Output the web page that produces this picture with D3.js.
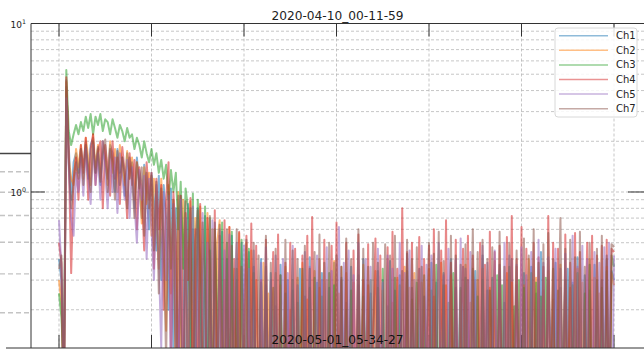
<!DOCTYPE html>
<html>
<head>
<meta charset="utf-8">
<script src="https://cdn.jsdelivr.net/npm/d3@7"></script>
<style>
  html, body { margin: 0; padding: 0; background: #fff; }
  svg { display: block; font-family: "DejaVu Sans", sans-serif; }
</style>
</head>
<body>
<div id="chart"></div>
<script>
// Spectra, 229 bins over 0..600 (x labels are cut off in the source)
const channels = ["Ch1", "Ch2", "Ch3", "Ch4", "Ch5", "Ch7"];
const colors = ["#1f77b4", "#ff7f0e", "#2ca02c", "#d62728", "#9467bd", "#8c564b"];
const xTicks = [0, 100, 200, 300, 400, 500, 600];
const yMajor = [1, 10];
const yMinor = [0.2, 0.3, 0.4, 0.5, 0.6, 0.7, 0.8, 0.9, 2, 3, 4, 5, 6, 7, 8, 9];

const ch1 = [
  0.4, 0.3, 0.05, 4.2, 1.9, 0.9, 1.5, 1.7, 1.3, 1.8,
  1.4, 2.0, 1.2, 1.9, 2.1, 1.3, 1.8, 1.1, 2.0, 1.5,
  1.2, 1.9, 1.7, 1.0, 1.8, 1.3, 1.6, 0.95, 1.7, 1.2,
  1.5, 0.8, 1.6, 1.1, 0.7, 1.45, 1.0, 0.6, 1.3, 0.9,
  0.45, 1.25, 0.3, 1.1, 0.7, 0.2, 1.05, 0.12, 0.8, 0.06,
  0.95, 0.5, 0.04, 0.85, 0.08, 0.6, 0.03, 0.8, 0.3, 0.05,
  0.72, 0.04, 0.45, 0.02, 0.66, 0.1, 0.05, 0.58, 0.03, 0.4,
  0.06, 0.55, 0.02, 0.3, 0.04, 0.5, 0.15, 0.03, 0.44, 0.05,
  0.36, 0.02, 0.04, 0.4, 0.08, 0.28, 0.03, 0.33, 0.05, 0.21,
  0.02, 0.37, 0.04, 0.1, 0.3, 0.03, 0.26, 0.06, 0.02, 0.35,
  0.05, 0.24, 0.03, 0.41, 0.04, 0.12, 0.29, 0.02, 0.33, 0.05,
  0.04, 0.27, 0.03, 0.38, 0.09, 0.02, 0.31, 0.05, 0.22, 0.03,
  0.36, 0.04, 0.02, 0.28, 0.06, 0.4, 0.03, 0.14, 0.25, 0.04,
  0.02, 0.34, 0.05, 0.3, 0.03, 0.07, 0.39, 0.02, 0.26, 0.04,
  0.32, 0.03, 0.05, 0.43, 0.02, 0.27, 0.1, 0.04, 0.35, 0.03,
  0.24, 0.05, 0.02, 0.38, 0.04, 0.29, 0.03, 0.11, 0.33, 0.02,
  0.05, 0.4, 0.03, 0.27, 0.04, 0.02, 0.36, 0.06, 0.3, 0.03,
  0.13, 0.34, 0.02, 0.05, 0.42, 0.03, 0.26, 0.04, 0.31, 0.02,
  0.06, 0.37, 0.03, 0.22, 0.05, 0.02, 0.4, 0.04, 0.28, 0.09,
  0.03, 0.33, 0.05, 0.02, 0.36, 0.04, 0.25, 0.03, 0.44, 0.05,
  0.02, 0.3, 0.12, 0.04, 0.38, 0.03, 0.27, 0.05, 0.02, 0.35,
  0.04, 0.29, 0.03, 0.41, 0.06, 0.02, 0.32, 0.05, 0.26, 0.03,
  0.37, 0.04, 0.02, 0.3, 0.05, 0.42, 0.03, 0.34, 0.3
];
const ch2 = [
  0.3, 0.22, 0.06, 4.5, 1.6, 1.2, 1.1, 1.8, 1.4, 1.9,
  1.2, 2.1, 1.6, 1.1, 2.2, 1.4, 1.9, 1.2, 2.0, 1.6,
  1.1, 2.0, 1.3, 1.8, 1.0, 1.9, 1.4, 1.1, 1.75, 1.2,
  1.6, 0.9, 1.5, 1.2, 0.65, 1.4, 0.85, 1.3, 0.55, 1.2,
  0.9, 0.35, 1.2, 0.6, 0.15, 1.1, 0.25, 0.9, 0.08, 1.0,
  0.05, 0.9, 0.4, 0.03, 0.88, 0.06, 0.7, 0.04, 0.82, 0.2,
  0.03, 0.75, 0.05, 0.6, 0.02, 0.5, 0.68, 0.04, 0.3, 0.02,
  0.62, 0.05, 0.35, 0.03, 0.57, 0.04, 0.1, 0.5, 0.02, 0.45,
  0.04, 0.3, 0.06, 0.02, 0.38, 0.03, 0.25, 0.09, 0.04, 0.33,
  0.02, 0.28, 0.05, 0.36, 0.03, 0.2, 0.04, 0.02, 0.31, 0.06,
  0.38, 0.03, 0.23, 0.05, 0.02, 0.34, 0.04, 0.27, 0.11, 0.03,
  0.3, 0.05, 0.02, 0.39, 0.04, 0.25, 0.03, 0.06, 0.33, 0.02,
  0.05, 0.29, 0.03, 0.21, 0.04, 0.37, 0.02, 0.28, 0.05, 0.13,
  0.34, 0.03, 0.04, 0.26, 0.02, 0.4, 0.05, 0.22, 0.03, 0.31,
  0.04, 0.02, 0.36, 0.06, 0.27, 0.03, 0.33, 0.05, 0.02, 0.29,
  0.1, 0.04, 0.35, 0.03, 0.24, 0.05, 0.02, 0.38, 0.04, 0.28,
  0.03, 0.32, 0.05, 0.12, 0.02, 0.26, 0.04, 0.37, 0.03, 0.22,
  0.05, 0.02, 0.3, 0.04, 0.35, 0.03, 0.08, 0.27, 0.02, 0.39,
  0.04, 0.25, 0.03, 0.05, 0.33, 0.02, 0.29, 0.06, 0.36, 0.03,
  0.04, 0.28, 0.02, 0.4, 0.05, 0.11, 0.31, 0.03, 0.02, 0.26,
  0.05, 0.34, 0.03, 0.23, 0.04, 0.02, 0.37, 0.05, 0.3, 0.03,
  0.27, 0.04, 0.02, 0.35, 0.06, 0.29, 0.03, 0.05, 0.4, 0.02,
  0.31, 0.05, 0.25, 0.03, 0.04, 0.36, 0.02, 0.33, 0.28
];
const ch3 = [
  0.25, 0.18, 0.08, 5.3, 2.3, 1.9, 2.2, 2.5, 2.2, 2.6,
  2.3, 2.8, 2.4, 2.9, 2.2, 2.8, 2.5, 2.9, 2.3, 2.7,
  2.6, 2.2, 2.7, 2.4, 2.1, 2.5, 2.3, 2.0, 2.4, 2.1,
  2.2, 1.8, 2.1, 1.9, 1.6, 2.0, 1.7, 1.5, 1.8, 1.45,
  1.7, 1.3, 1.55, 1.2, 1.45, 0.9, 1.35, 1.0, 1.3, 0.6,
  1.15, 0.35, 1.05, 0.8, 0.12, 0.98, 0.06, 0.9, 0.4, 0.04,
  0.82, 0.05, 0.7, 0.03, 0.6, 0.2, 0.04, 0.66, 0.02, 0.5,
  0.05, 0.58, 0.03, 0.35, 0.04, 0.52, 0.02, 0.1, 0.46, 0.03,
  0.33, 0.05, 0.02, 0.29, 0.04, 0.36, 0.03, 0.12, 0.27, 0.02,
  0.05, 0.32, 0.03, 0.25, 0.04, 0.02, 0.3, 0.06, 0.22, 0.03,
  0.35, 0.04, 0.02, 0.27, 0.05, 0.31, 0.03, 0.09, 0.24, 0.02,
  0.04, 0.33, 0.03, 0.28, 0.05, 0.02, 0.36, 0.04, 0.2, 0.03,
  0.26, 0.05, 0.02, 0.32, 0.03, 0.24, 0.1, 0.04, 0.3, 0.02,
  0.05, 0.27, 0.03, 0.35, 0.04, 0.21, 0.02, 0.06, 0.31, 0.03,
  0.28, 0.04, 0.02, 0.34, 0.05, 0.23, 0.03, 0.29, 0.04, 0.11,
  0.32, 0.02, 0.05, 0.26, 0.03, 0.37, 0.04, 0.02, 0.28, 0.05,
  0.22, 0.03, 0.33, 0.04, 0.08, 0.27, 0.02, 0.31, 0.05, 0.03,
  0.35, 0.04, 0.24, 0.02, 0.3, 0.05, 0.03, 0.26, 0.12, 0.04,
  0.32, 0.02, 0.28, 0.05, 0.03, 0.36, 0.04, 0.21, 0.02, 0.3,
  0.05, 0.27, 0.03, 0.04, 0.33, 0.02, 0.29, 0.06, 0.24, 0.03,
  0.31, 0.04, 0.02, 0.35, 0.05, 0.26, 0.03, 0.1, 0.3, 0.02,
  0.04, 0.28, 0.03, 0.33, 0.05, 0.02, 0.25, 0.04, 0.37, 0.03,
  0.06, 0.3, 0.02, 0.27, 0.04, 0.34, 0.03, 0.42, 0.36
];
const ch4 = [
  0.5, 0.38, 0.04, 4.8, 1.7, 0.33, 1.2, 1.6, 0.9, 1.9,
  1.3, 2.1, 0.9, 1.8, 2.2, 1.1, 1.7, 2.0, 0.8, 1.9,
  1.4, 0.95, 2.0, 1.2, 1.6, 0.85, 1.85, 1.3, 0.7, 1.7,
  1.1, 1.55, 0.6, 1.4, 1.0, 0.45, 1.5, 0.9, 1.3, 0.35,
  1.2, 0.6, 1.1, 0.2, 0.9, 1.5, 0.1, 1.0, 0.5, 0.06,
  0.95, 0.04, 0.75, 0.3, 0.92, 0.05, 0.6, 0.03, 0.85, 0.1,
  0.04, 0.7, 0.35, 0.02, 0.78, 0.05, 0.55, 0.03, 0.68, 0.04,
  0.62, 0.02, 0.4, 0.05, 0.58, 0.03, 0.2, 0.55, 0.04, 0.65,
  0.03, 0.48, 0.05, 0.3, 0.02, 0.52, 0.04, 0.12, 0.44, 0.03,
  0.56, 0.05, 0.02, 0.38, 0.04, 0.5, 0.03, 0.46, 0.06, 0.02,
  0.42, 0.04, 0.55, 0.03, 0.71, 0.05, 0.02, 0.4, 0.04, 0.52,
  0.03, 0.09, 0.48, 0.02, 0.66, 0.05, 0.36, 0.03, 0.5, 0.04,
  0.02, 0.45, 0.05, 0.56, 0.03, 0.3, 0.04, 0.49, 0.02, 0.13,
  0.53, 0.04, 0.42, 0.03, 0.05, 0.47, 0.02, 0.58, 0.04, 0.35,
  0.03, 0.8, 0.05, 0.44, 0.02, 0.5, 0.04, 0.1, 0.54, 0.03,
  0.4, 0.05, 0.48, 0.02, 0.6, 0.04, 0.03, 0.45, 0.05, 0.68,
  0.02, 0.38, 0.04, 0.52, 0.03, 0.11, 0.46, 0.05, 0.55, 0.02,
  0.42, 0.04, 0.03, 0.5, 0.05, 0.37, 0.02, 0.58, 0.04, 0.44,
  0.03, 0.48, 0.05, 0.02, 0.54, 0.04, 0.72, 0.03, 0.4, 0.05,
  0.62, 0.02, 0.46, 0.04, 0.09, 0.5, 0.03, 0.41, 0.05, 0.36,
  0.02, 0.72, 0.04, 0.5, 0.03, 0.46, 0.05, 0.02, 0.56, 0.04,
  0.38, 0.03, 0.57, 0.05, 0.44, 0.02, 0.12, 0.5, 0.04, 0.55,
  0.03, 0.42, 0.05, 0.48, 0.02, 0.52, 0.04, 0.46, 0.44
];
const ch5 = [
  0.68, 0.35, 0.07, 3.6, 1.4, 0.7, 0.55, 1.3, 1.0, 1.6,
  0.95, 1.8, 1.2, 0.85, 1.9, 1.1, 1.7, 0.9, 2.0, 1.3,
  0.8, 1.75, 1.0, 1.6, 0.75, 1.7, 1.2, 0.9, 1.55, 0.7,
  1.4, 0.85, 0.5, 1.35, 0.9, 1.25, 0.4, 1.2, 0.6, 0.3,
  1.1, 0.4, 0.12, 1.0, 0.3, 0.95, 0.07, 0.85, 0.15, 0.05,
  0.9, 0.03, 0.7, 0.05, 0.45, 0.82, 0.04, 0.6, 0.02, 0.75,
  0.05, 0.5, 0.03, 0.68, 0.1, 0.04, 0.6, 0.02, 0.45, 0.05,
  0.56, 0.03, 0.25, 0.5, 0.04, 0.02, 0.48, 0.05, 0.35, 0.03,
  0.45, 0.04, 0.02, 0.38, 0.06, 0.47, 0.03, 0.3, 0.05, 0.42,
  0.03, 0.15, 0.4, 0.02, 0.33, 0.05, 0.48, 0.04, 0.28, 0.03,
  0.05, 0.44, 0.02, 0.36, 0.04, 0.1, 0.42, 0.03, 0.3, 0.05,
  0.47, 0.02, 0.34, 0.04, 0.03, 0.62, 0.05, 0.38, 0.02, 0.45,
  0.04, 0.32, 0.03, 0.5, 0.05, 0.12, 0.4, 0.02, 0.36, 0.04,
  0.03, 0.46, 0.05, 0.29, 0.02, 0.42, 0.04, 0.35, 0.03, 0.08,
  0.5, 0.04, 0.33, 0.02, 0.45, 0.05, 0.3, 0.03, 0.04, 0.48,
  0.02, 0.37, 0.05, 0.42, 0.03, 0.14, 0.5, 0.04, 0.32, 0.02,
  0.46, 0.05, 0.03, 0.4, 0.04, 0.53, 0.02, 0.35, 0.05, 0.44,
  0.03, 0.3, 0.04, 0.02, 0.48, 0.05, 0.38, 0.03, 0.1, 0.45,
  0.04, 0.34, 0.02, 0.5, 0.05, 0.42, 0.03, 0.04, 0.37, 0.02,
  0.47, 0.05, 0.32, 0.03, 0.44, 0.04, 0.02, 0.52, 0.05, 0.38,
  0.03, 0.41, 0.04, 0.12, 0.46, 0.02, 0.35, 0.05, 0.43, 0.03,
  0.04, 0.55, 0.02, 0.36, 0.05, 0.48, 0.03, 0.4, 0.04, 0.02,
  0.44, 0.05, 0.38, 0.03, 0.47, 0.04, 0.5, 0.03, 0.42
];
const ch7 = [
  0.35, 0.42, 0.05, 4.6, 1.5, 0.8, 1.1, 1.5, 1.2, 1.8,
  1.1, 1.9, 1.4, 1.0, 2.0, 1.3, 1.85, 1.15, 1.7, 2.05,
  1.0, 1.8, 1.5, 0.9, 1.75, 1.1, 1.6, 1.3, 0.8, 1.6,
  1.2, 0.7, 1.5, 1.05, 1.4, 0.55, 1.3, 0.8, 1.25, 0.45,
  1.15, 0.25, 1.05, 0.5, 0.1, 1.0, 0.35, 0.9, 0.06, 0.95,
  0.2, 0.04, 0.88, 0.06, 0.8, 0.03, 0.5, 0.78, 0.05, 0.66,
  0.3, 0.02, 0.72, 0.04, 0.5, 0.03, 0.64, 0.15, 0.05, 0.6,
  0.02, 0.48, 0.04, 0.6, 0.03, 0.36, 0.05, 0.52, 0.02, 0.12,
  0.5, 0.03, 0.42, 0.05, 0.02, 0.55, 0.04, 0.38, 0.03, 0.46,
  0.05, 0.32, 0.02, 0.52, 0.04, 0.1, 0.45, 0.03, 0.4, 0.05,
  0.02, 0.48, 0.04, 0.35, 0.03, 0.44, 0.05, 0.56, 0.02, 0.38,
  0.04, 0.5, 0.03, 0.12, 0.42, 0.05, 0.3, 0.02, 0.53, 0.04,
  0.4, 0.03, 0.05, 0.6, 0.02, 0.46, 0.04, 0.36, 0.03, 0.5,
  0.05, 0.38, 0.02, 0.1, 0.49, 0.04, 0.42, 0.03, 0.55, 0.05,
  0.02, 0.34, 0.04, 0.52, 0.03, 0.4, 0.05, 0.47, 0.02, 0.36,
  0.04, 0.12, 0.5, 0.03, 0.43, 0.05, 0.58, 0.02, 0.39, 0.04,
  0.03, 0.55, 0.05, 0.42, 0.02, 0.37, 0.04, 0.49, 0.03, 0.1,
  0.6, 0.05, 0.44, 0.02, 0.52, 0.04, 0.4, 0.03, 0.47, 0.05,
  0.02, 0.58, 0.04, 0.36, 0.03, 0.5, 0.05, 0.11, 0.45, 0.02,
  0.04, 0.53, 0.03, 0.42, 0.05, 0.6, 0.02, 0.38, 0.04, 0.49,
  0.03, 0.57, 0.05, 0.4, 0.02, 0.14, 0.7, 0.04, 0.46, 0.03,
  0.52, 0.05, 0.41, 0.02, 0.58, 0.04, 0.36, 0.03, 0.5, 0.05,
  0.02, 0.46, 0.04, 0.55, 0.03, 0.4, 0.05, 0.49, 0.47
];
const series = [ch1, ch2, ch3, ch4, ch5, ch7];

const W = 644, H = 349;
const box = {left: 31, top: 23.5, right: 644, bottom: 348};

const freqs = d3.range(ch1.length).map(i => i * 600 / (ch1.length - 1));

const x = d3.scaleLinear().domain([0, 600]).range([59, 614]);
const y = d3.scaleLog().domain([0.1186, 10]).range([box.bottom, box.top]);

const svg = d3.select("#chart").append("svg")
  .attr("width", W)
  .attr("height", H);

svg.append("rect").attr("width", W).attr("height", H).attr("fill", "#fff");

// ghost of the larger figure peeking out on the left
const ghost = d3.scaleLog().domain([1, 10]).range([553.5, 153.5]);
svg.append("g").selectAll("line")
  .data([4, 5, 6, 7, 8, 9])
  .join("line")
  .attr("x1", 0).attr("x2", box.left)
  .attr("y1", d => ghost(d)).attr("y2", d => ghost(d))
  .attr("stroke", "#c4c4c4")
  .attr("stroke-width", 1.4)
  .attr("stroke-dasharray", "5,3");
svg.append("line")
  .attr("x1", 0).attr("x2", box.left)
  .attr("y1", ghost(10)).attr("y2", ghost(10))
  .attr("stroke", "#444")
  .attr("stroke-width", 1.5);

svg.append("defs").append("clipPath").attr("id", "plot-clip")
  .append("rect")
  .attr("x", box.left).attr("y", box.top)
  .attr("width", box.right - box.left).attr("height", box.bottom - box.top);

// grid
const grid = svg.append("g")
  .attr("stroke", "#b8b8b8")
  .attr("stroke-width", 0.8)
  .attr("stroke-dasharray", "3,2");

grid.selectAll("line.h")
  .data(yMinor.concat(yMajor).filter(v => y(v) > box.top + 1))
  .join("line")
  .attr("class", "h")
  .attr("x1", box.left).attr("x2", box.right)
  .attr("y1", d => y(d)).attr("y2", d => y(d));

grid.selectAll("line.v")
  .data(xTicks)
  .join("line")
  .attr("class", "v")
  .attr("x1", d => x(d)).attr("x2", d => x(d))
  .attr("y1", box.top).attr("y2", box.bottom);

// bottom ticks (mostly hidden under the data)
svg.append("g").selectAll("line")
  .data(xTicks)
  .join("line")
  .attr("x1", d => x(d)).attr("x2", d => x(d))
  .attr("y1", box.bottom).attr("y2", box.bottom - 13)
  .attr("stroke", "#333");

// data
const line = d3.line()
  .x((d, i) => x(freqs[i]))
  .y(d => y(d));

svg.append("g")
  .attr("clip-path", "url(#plot-clip)")
  .selectAll("path")
  .data(series)
  .join("path")
  .attr("d", line)
  .attr("fill", "none")
  .attr("stroke", (d, i) => colors[i])
  .attr("stroke-opacity", 0.55)
  .attr("stroke-width", 2)
  .attr("stroke-linejoin", "round");

// spines
const spines = svg.append("g").attr("stroke", "#333").attr("stroke-width", 1);
spines.append("line").attr("x1", box.left).attr("x2", box.left).attr("y1", box.top).attr("y2", box.bottom);
spines.append("line").attr("x1", box.left).attr("x2", box.right).attr("y1", box.top).attr("y2", box.top);
spines.append("line").attr("x1", 6).attr("x2", box.right).attr("y1", box.bottom).attr("y2", box.bottom);

// inward ticks
spines.selectAll("line.tt")
  .data(xTicks)
  .join("line")
  .attr("class", "tt")
  .attr("x1", d => x(d)).attr("x2", d => x(d))
  .attr("y1", box.top).attr("y2", box.top + 13);
spines.selectAll("line.yl")
  .data(yMajor)
  .join("line")
  .attr("class", "yl")
  .attr("x1", box.left).attr("x2", box.left + 14)
  .attr("y1", d => y(d)).attr("y2", d => y(d));
spines.selectAll("line.yr")
  .data(yMajor)
  .join("line")
  .attr("class", "yr")
  .attr("x1", box.right).attr("x2", box.right - 16)
  .attr("y1", d => y(d)).attr("y2", d => y(d));

// y tick labels, 10^n
const yLabels = svg.append("g")
  .selectAll("text")
  .data(yMajor)
  .join("text")
  .attr("x", box.left - 5)
  .attr("y", d => y(d) + 4.5)
  .attr("text-anchor", "end")
  .attr("fill", "#222")
  .style("font-size", "9px");
yLabels.append("tspan").text("10");
yLabels.append("tspan")
  .attr("dy", -4)
  .style("font-size", "6.3px")
  .text(d => Math.round(Math.log10(d)));

// title
svg.append("text")
  .attr("x", (box.left + box.right) / 2)
  .attr("y", 20)
  .attr("text-anchor", "middle")
  .attr("fill", "#222")
  .style("font-size", "12.2px")
  .text("2020-04-10_00-11-59");

// legend
const legend = svg.append("g").attr("transform", "translate(555,28)");
legend.append("rect")
  .attr("width", 82).attr("height", 89)
  .attr("rx", 3)
  .attr("fill", "#fff").attr("fill-opacity", 0.85)
  .attr("stroke", "#d8d8d8");
const items = legend.selectAll("g.item")
  .data(channels)
  .join("g")
  .attr("class", "item")
  .attr("transform", (d, i) => `translate(0,${7.7 + i * 14.6})`);
items.append("line")
  .attr("x1", 4).attr("x2", 53)
  .attr("stroke", (d, i) => colors[i])
  .attr("stroke-opacity", 0.5)
  .attr("stroke-width", 1.5);
items.append("text")
  .attr("x", 61)
  .attr("dy", "0.35em")
  .attr("fill", "#222")
  .style("font-size", "10px")
  .text(d => d);

// title of the next figure overlapping the bottom edge
svg.append("text")
  .attr("x", (box.left + box.right) / 2)
  .attr("y", 343.5)
  .attr("text-anchor", "middle")
  .attr("fill", "#111")
  .style("font-size", "12.2px")
  .text("2020-05-01_05-34-27");
</script>
</body>
</html>
